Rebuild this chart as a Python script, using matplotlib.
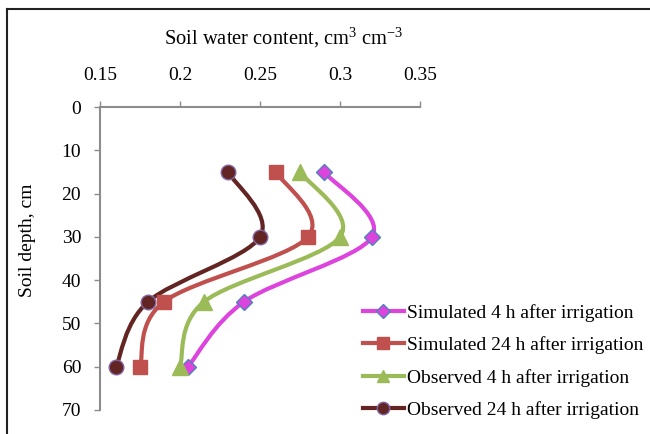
import numpy as np
import matplotlib
matplotlib.use("Agg")
import matplotlib.pyplot as plt
from matplotlib.path import Path
from matplotlib.patches import PathPatch
from matplotlib.lines import Line2D

plt.rcParams['font.family'] = ['Liberation Serif', 'DejaVu Serif']
plt.rcParams['mathtext.fontset'] = 'custom'
plt.rcParams['mathtext.rm'] = 'Liberation Serif'
plt.rcParams['mathtext.it'] = 'Liberation Serif:italic'

depths = [15, 30, 45, 60]
sim_4h = [0.29, 0.32, 0.24, 0.205]
sim_24h = [0.26, 0.28, 0.19, 0.175]
obs_4h = [0.275, 0.30, 0.215, 0.20]
obs_24h = [0.23, 0.25, 0.18, 0.16]

labels = ["Simulated 4 h after irrigation", "Simulated 24 h after irrigation",
          "Observed 4 h after irrigation", "Observed 24 h after irrigation"]
x_ticks = [0.15, 0.2, 0.25, 0.3, 0.35]
x_tick_labels = ["0.15", "0.2", "0.25", "0.3", "0.35"]
y_ticks = [0, 10, 20, 30, 40, 50, 60, 70]

styles = [
    dict(color='#DD44DD', marker='D', mfc='#DD44DD', mec='#4F81BD', ms=8.5),
    dict(color='#C0504D', marker='s', mfc='#C0504D', mec='#C0504D', ms=10),
    dict(color='#9BBB59', marker='^', mfc='#9BBB59', mec='#9BBB59', ms=11),
    dict(color='#632523', marker='o', mfc='#632523', mec='#8064A2', ms=10.5),
]

FS = 14
W, H = 650, 434
fig = plt.figure(figsize=(W / 100, H / 100), dpi=100)
ax = fig.add_axes([100 / W, 1 - 410 / H, 320 / W, 303 / H])
ax.set_xlim(0.15, 0.35)
ax.set_ylim(70, 0)


def smooth_path(xs, ys):
    P = np.column_stack([xs, ys]).astype(float)
    n = len(P)
    verts = [P[0]]
    codes = [Path.MOVETO]
    for i in range(n - 1):
        pm = P[i - 1] if i > 0 else P[i]
        pp = P[i + 2] if i + 2 < n else P[i + 1]
        c1 = P[i] + (P[i + 1] - pm) / 6.0
        c2 = P[i + 1] - (pp - P[i]) / 6.0
        verts += [c1, c2, P[i + 1]]
        codes += [Path.CURVE4] * 3
    return Path(verts, codes)


series = [sim_4h, sim_24h, obs_4h, obs_24h]
handles = []
for vals, st, lab in zip(series, styles, labels):
    patch = PathPatch(smooth_path(vals, depths), facecolor='none',
                      edgecolor=st['color'], lw=3, zorder=2,
                      capstyle='round', joinstyle='round')
    ax.add_patch(patch)
    ax.plot(vals, depths, ls='none', marker=st['marker'], ms=st['ms'],
            mfc=st['mfc'], mec=st['mec'], mew=1, zorder=3)
    handles.append(Line2D([], [], color=st['color'], lw=3, marker=st['marker'],
                          ms=st['ms'] * 0.85, mfc=st['mfc'], mec=st['mec'], mew=1))

ax.xaxis.tick_top()
ax.set_xticks(x_ticks)
ax.set_xticklabels(x_tick_labels)
ax.set_yticks(y_ticks)
for s in ['right', 'bottom']:
    ax.spines[s].set_visible(False)
for s in ['left', 'top']:
    ax.spines[s].set_color('#8C8C8C')
    ax.spines[s].set_linewidth(1.5)
ax.tick_params(axis='x', direction='out', length=4.5, width=1, color='#8C8C8C',
               pad=12, labelsize=FS)
ax.tick_params(axis='y', direction='out', length=4.5, width=1, color='#8C8C8C',
               pad=9, labelsize=FS)
ax.set_facecolor('none')

fig.text(284 / W, 1 - 38 / H, r"Soil water content, cm$^{3}$ cm$^{-3}$",
         ha='center', va='center', fontsize=14.8)
fig.text(28 / W, 1 - 240 / H, "Soil depth, cm", rotation=90,
         ha='center', va='center', fontsize=FS)

leg = fig.legend(handles, labels, loc='center left',
                 bbox_to_anchor=(363 / W, 1 - 361.5 / H), frameon=False,
                 fontsize=FS, handlelength=2.1, handletextpad=0.15,
                 labelspacing=0.75, borderpad=0, borderaxespad=0)

# outer frame (left and top edges)
fig.add_artist(Line2D([7 / W, 7 / W], [0, 1 - 9 / H], transform=fig.transFigure,
                      color='#222222', lw=1.5))
fig.add_artist(Line2D([7 / W, 1], [1 - 9 / H, 1 - 9 / H], transform=fig.transFigure,
                      color='#222222', lw=1.5))

fig.savefig("out.png", dpi=100)
